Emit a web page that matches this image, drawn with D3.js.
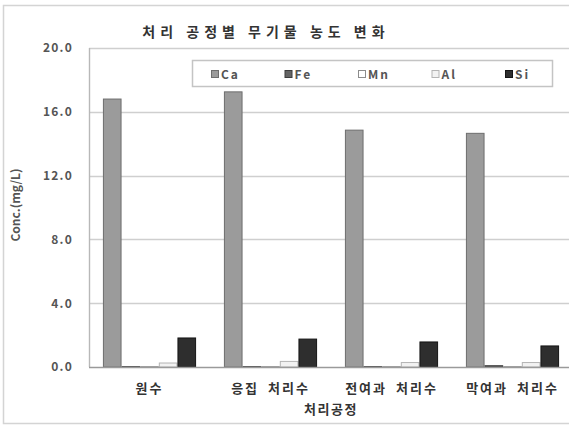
<!DOCTYPE html>
<html>
<head>
<meta charset="utf-8">
<script src="https://cdn.jsdelivr.net/npm/d3@7/dist/d3.min.js"></script>
<style>
  html, body { margin: 0; padding: 0; background: #fff; }
  svg { display: block; }
  text { font-family: "Noto Sans CJK KR", "Noto Sans", sans-serif; }
</style>
</head>
<body>
<svg id="chart" width="569" height="426"></svg>
<script>
// Treatment stages (x categories)
const categories = ["원수", "응집 처리수", "전여과 처리수", "막여과 처리수"];
// Elements (series)
const seriesNames = ["Ca", "Fe", "Mn", "Al", "Si"];
// Concentrations in mg/L, one array per element, ordered like categories
const ca = [16.8, 17.25, 14.85, 14.65];
const fe = [0.02, 0.02, 0.02, 0.08];
const mn = [0.02, 0.02, 0.02, 0.02];
const al = [0.25, 0.35, 0.28, 0.28];
const si = [1.82, 1.75, 1.57, 1.32];
// Y axis ticks
const yTicks = [0, 4, 8, 12, 16, 20];

const values = [ca, fe, mn, al, si];
const fills   = ["#9b9b9b", "#646464", "#ffffff", "#f2f2f2", "#2e2e2e"];
const strokes = ["#6e6e6e", "#3c3c3c", "#8c8c8c", "#b4b4b4", "#151515"];

const svg = d3.select("#chart");

// outer frame
svg.append("path")
  .attr("d", "M 600 5.5 H 3.5 V 423.5 H 600")
  .attr("fill", "none").attr("stroke", "#d4d4d4").attr("stroke-width", 1.5);

const plot = { left: 89, top: 48, right: 573, bottom: 367 };

const x = d3.scaleBand().domain(categories).range([plot.left, plot.right])
  .paddingInner(0.23).paddingOuter(0.115);
const xs = d3.scaleBand().domain(seriesNames).range([0, x.bandwidth()]);
const y = d3.scaleLinear().domain([0, 20]).range([plot.bottom, plot.top]);

// gridlines
svg.append("g").selectAll("line").data(yTicks.filter(d => d > 0)).join("line")
  .attr("x1", plot.left).attr("x2", plot.right)
  .attr("y1", d => Math.round(y(d)) + 0.5).attr("y2", d => Math.round(y(d)) + 0.5)
  .attr("stroke", "#cfcfcf").attr("stroke-width", 1.6);

// left axis line
svg.append("line")
  .attr("x1", plot.left + 0.5).attr("x2", plot.left + 0.5)
  .attr("y1", plot.top).attr("y2", plot.bottom)
  .attr("stroke", "#b8b8b8").attr("stroke-width", 1.4);

// bars
const groups = svg.append("g").selectAll("g").data(categories).join("g")
  .attr("transform", c => `translate(${x(c)},0)`);
groups.selectAll("rect")
  .data((c, i) => seriesNames.map((s, j) => ({ s, j, v: values[j][i] })))
  .join("rect")
  .attr("x", d => xs(d.s) + 0.5)
  .attr("width", xs.bandwidth() - 1)
  .attr("y", d => y(d.v))
  .attr("height", d => y(0) - y(d.v))
  .attr("fill", d => fills[d.j])
  .attr("stroke", d => strokes[d.j])
  .attr("stroke-width", 1);

// baseline
svg.append("line")
  .attr("x1", plot.left).attr("x2", plot.right)
  .attr("y1", plot.bottom + 0.5).attr("y2", plot.bottom + 0.5)
  .attr("stroke", "#9a9a9a").attr("stroke-width", 1.4);

// y axis labels
const yAxis = d3.axisLeft(y).tickValues(yTicks).tickFormat(d3.format(".1f")).tickSize(0).tickPadding(16);
const yg = svg.append("g").attr("transform", `translate(${plot.left},0)`).call(yAxis);
yg.select(".domain").remove();
yg.selectAll("text")
  .attr("font-family", "'DejaVu Sans', sans-serif")
  .attr("font-size", 12).attr("font-weight", "bold")
  .attr("letter-spacing", 1.2).attr("fill", "#555");

// x axis labels
const xAxis = d3.axisBottom(x).tickSize(0).tickPadding(17);
const xg = svg.append("g").attr("transform", `translate(0,${plot.bottom})`).call(xAxis);
xg.select(".domain").remove();
xg.selectAll("text")
  .attr("font-family", "'Noto Sans CJK KR', sans-serif")
  .attr("font-size", 13).attr("font-weight", "bold")
  .attr("letter-spacing", 2).attr("word-spacing", 4).attr("fill", "#333");

// axis titles
svg.append("text")
  .attr("x", (plot.left + plot.right) / 2).attr("y", 414)
  .attr("text-anchor", "middle")
  .attr("font-size", 13).attr("font-weight", "bold")
  .attr("letter-spacing", 1.5).attr("fill", "#333")
  .text("처리공정");

svg.append("text")
  .attr("transform", "translate(20,205) rotate(-90)")
  .attr("text-anchor", "middle")
  .attr("font-family", "'DejaVu Sans', sans-serif")
  .attr("font-size", 12).attr("font-weight", "bold")
  .attr("fill", "#555")
  .text("Conc.(mg/L)");

// title
svg.append("text")
  .attr("x", 266).attr("y", 37)
  .attr("text-anchor", "middle")
  .attr("font-size", 14).attr("font-weight", "bold")
  .attr("letter-spacing", 5).attr("fill", "#333")
  .text("처리 공정별 무기물 농도 변화");

// legend
const lg = svg.append("g");
lg.append("rect")
  .attr("x", 192.5).attr("y", 60.5).attr("width", 360).attr("height", 26)
  .attr("fill", "#fff").attr("stroke", "#c4c4c4").attr("stroke-width", 1.5);
const lx = d3.scalePoint().domain(seriesNames).range([211, 505]);
const items = lg.selectAll("g").data(seriesNames).join("g")
  .attr("transform", s => `translate(${lx(s)},74)`);
items.append("rect")
  .attr("x", 0.5).attr("y", -3.5).attr("width", 7).attr("height", 7)
  .attr("fill", (s, j) => fills[j]).attr("stroke", (s, j) => strokes[j]);
items.append("text")
  .attr("x", 10).attr("y", 4.5)
  .attr("font-family", "'DejaVu Sans', sans-serif")
  .attr("font-size", 12).attr("font-weight", "bold")
  .attr("letter-spacing", 2).attr("fill", "#555")
  .text(s => s);
</script>
</body>
</html>
